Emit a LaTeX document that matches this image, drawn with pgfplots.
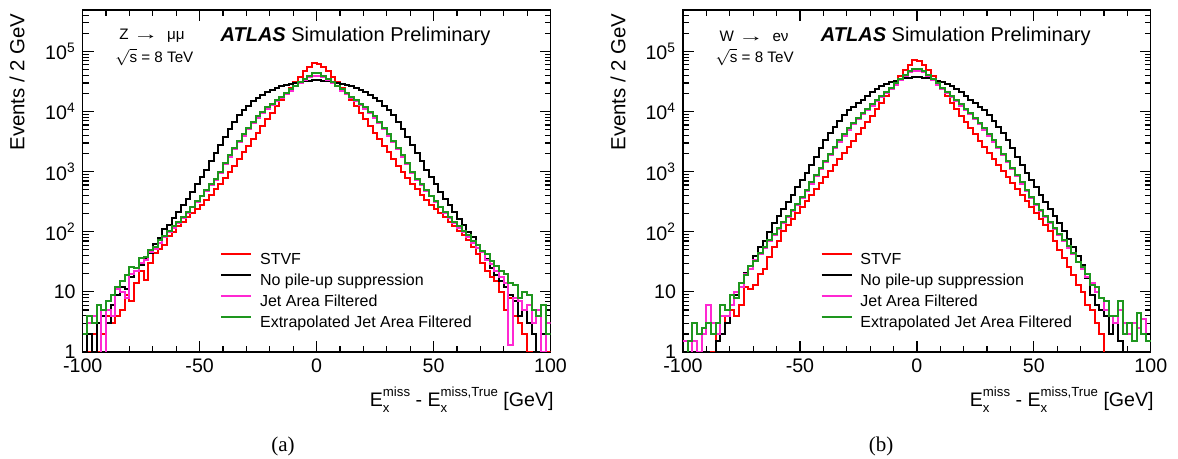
\documentclass[border=0pt]{standalone}
\usepackage{pgfplots}
\pgfplotsset{compat=1.18}
\usepackage{pgfplotstable}
\usepackage{fontspec}
\setmainfont{Liberation Sans}
\newfontfamily\seriffont{Liberation Serif}
\definecolor{cred}{RGB}{255,0,0}
\definecolor{cmag}{RGB}{255,40,210}
\definecolor{cgreen}{RGB}{30,150,30}
\newcommand\supsub[2]{\raisebox{-3pt}{\fontsize{6.6}{8}\selectfont\begin{tabular}[b]{@{}l@{}}#1\\#2\end{tabular}}}

% panel (a): Z -> mumu ; x = left bin edge, 2 GeV bins
\pgfplotstableread{
x R K M G
-100 0.5 0.5 2 2
-98 1 2 3 4
-96 2 1 4 3
-94 1 3 6 6
-92 2 4 0.5 5
-90 4 3 5 7
-88 3 6 4 9
-86 4 9 11 12
-84 5 12 10 15
-82 9 11 8 19
-80 7 18 20 26
-78 14 22 22 25
-76 22 28 30 36
-74 16 37 34 38
-72 30 45 46 50
-70 44 62 52 56
-68 52 80 64 72
-66 60 110 81 84
-64 85 130 98 102
-62 100 172 117 123
-60 126 214 141 148
-58 148 275 170 178
-56 174 355 204 214
-54 204 468 257 262
-52 240 617 316 324
-50 282 813 389 398
-48 339 1070 479 501
-46 417 1480 589 617
-44 513 2040 724 759
-42 631 2820 955 1000
-40 776 3800 1320 1380
-38 977 5130 1780 1860
-36 1260 6760 2340 2450
-34 1620 8710 3090 3240
-32 2090 10700 3980 4170
-30 2690 12600 5130 5370
-28 3470 14800 6460 6760
-26 4470 17000 7940 8320
-24 5750 19100 9550 10000
-22 7410 20900 11200 11700
-20 9550 22900 12900 13500
-18 12300 25100 14800 15500
-16 15800 26300 17000 17800
-14 20000 27500 19500 20400
-12 25100 28800 22400 23400
-10 30900 30200 26300 26900
-8 38000 31600 30200 30900
-6 46800 32400 33900 35500
-4 55000 32700 37200 39800
-2 63100 33100 39800 43700
0 62000 33000 39500 43300
2 55000 32700 37200 39800
4 46800 32400 33900 35500
6 38000 31600 30200 30900
8 30900 30200 26300 26900
10 25100 28800 22400 23400
12 20000 27500 19500 20400
14 15800 26300 17000 17800
16 12300 25100 14800 15500
18 9550 22900 12900 13500
20 7410 20900 11200 11700
22 5750 19100 9550 10000
24 4470 17000 7940 8320
26 3470 14800 6460 6760
28 2690 12600 5130 5370
30 2090 10700 3980 4170
32 1620 8710 3090 3240
34 1260 6760 2340 2450
36 977 5130 1780 1860
38 776 3800 1320 1380
40 631 2820 955 1000
42 513 2040 724 759
44 417 1480 589 617
46 339 1070 479 501
48 282 813 389 398
50 240 617 316 324
52 204 468 257 262
54 174 355 204 214
56 148 275 170 178
58 126 214 141 148
60 105 165 117 123
62 88 130 98 102
64 72 100 81 88
66 55 82 64 70
68 42 60 54 60
70 30 46 46 47
72 22 35 34 42
74 18 25 29 33
76 15 19 22 27
78 10 15 18 22
80 5 12 14 20
82 8 9 1.3 14
84 4 7 8 13
86 3 4 7 8
88 2 5 5 10
90 1 3 6 9
92 0.5 2 3 5
94 1 1 5 4
96 2 2 1 6
98 1 0.5 3 2
100 1 0.5 3 2
}\dataA

% panel (b): W -> e nu
\pgfplotstableread{
x R K M G
-100 0.5 0.5 1.5 0.5
-98 0.5 0.5 0.5 1.5
-96 0.5 0.5 1.5 3
-94 0.5 0.5 1 2
-92 0.5 0.5 2 2.5
-90 0.5 0.5 6 3
-88 1 0.5 3 2
-86 2 1.5 2 3
-84 4 2 4 6
-82 3 3 4 5
-80 5 6 6 9
-78 4 9 10 8
-76 6 12 12 14
-74 12 21 20 19
-72 11 24 24 27
-70 13 40 34 33
-68 20 55 42 44
-66 24 70 54 56
-64 38 100 69 72
-62 55 138 87 91
-60 71 182 110 115
-58 102 240 138 145
-56 129 316 174 182
-54 162 417 219 229
-52 204 550 282 295
-50 257 724 363 380
-48 324 955 479 501
-46 407 1290 631 661
-44 513 1780 832 871
-42 646 2450 1100 1150
-40 813 3310 1440 1510
-38 1020 4370 1910 2000
-36 1290 5620 2450 2570
-34 1620 7080 3160 3310
-32 2040 8710 3980 4170
-30 2570 10500 5010 5250
-28 3240 11700 6170 6460
-26 4170 13800 7590 7940
-24 5250 15800 9120 9550
-22 6760 18200 10700 11200
-20 8510 20900 12600 13200
-18 11000 23400 14800 15500
-16 14100 26300 17400 18200
-14 18200 28800 20400 21400
-12 23400 30900 24000 25100
-10 30200 32700 28200 29500
-8 38900 34700 33100 34700
-6 49000 35900 38900 40700
-4 60300 36700 44700 46800
-2 70800 37200 46800 51300
0 70000 37100 46500 51000
2 60300 36700 44700 46800
4 49000 35900 38900 40700
6 38900 34700 33100 34700
8 30200 32700 28200 29500
10 23400 30900 24000 25100
12 18200 28800 20400 21400
14 14100 26300 17400 18200
16 11000 23400 14800 15500
18 8510 20900 12600 13200
20 6760 18200 10700 11200
22 5250 15800 9120 9550
24 4170 13800 7590 7940
26 3240 11700 6170 6460
28 2570 10500 5010 5250
30 2040 8710 3980 4170
32 1620 7080 3160 3310
34 1290 5620 2450 2570
36 1020 4370 1910 2000
38 813 3310 1440 1510
40 646 2450 1100 1150
42 513 1780 832 871
44 407 1290 631 661
46 324 955 479 501
48 257 724 363 380
50 204 550 282 295
52 162 417 219 229
54 129 316 174 182
56 102 240 138 145
58 70 182 110 115
60 50 140 87 91
62 36 105 69 72
64 26 76 54 58
66 19 56 43 45
68 13 40 31 32
70 10 28 24 26
72 6 17 18 20
74 5 9 14 13
76 3 6 10 12
78 2 5 8 8
80 0.5 4 5 7
82 0.5 2 4 4
84 0.5 3 3 4
86 0.5 1.5 5 7
88 0.5 0.5 3 2
90 0.5 0.5 2 3
92 0.5 0.5 3 1.5
94 0.5 0.5 2.5 4.5
96 0.5 0.5 3.5 2
98 0.5 0.5 1.5 1.5
100 0.5 0.5 1.5 1.5
}\dataB

\pgfplotsset{
  scale only axis, width=233.9pt, height=171pt,
  xmin=-100, xmax=100, ymin=1, ymax=4.9e5,
  xtick={-100,-50,0,50,100}, xticklabels={-100,-50,0,50,100},
  minor xtick={-90,-80,-70,-60,-40,-30,-20,-10,10,20,30,40,60,70,80,90},
  ytick={1,10,100,1000,10000,100000},
  yticklabels={1,10,10\textsuperscript{2},10\textsuperscript{3},10\textsuperscript{4},10\textsuperscript{5}},
  minor ytick={2,3,4,5,6,7,8,9,20,30,40,50,60,70,80,90,200,300,400,500,600,700,800,900,2000,3000,4000,5000,6000,7000,8000,9000,20000,30000,40000,50000,60000,70000,80000,90000,200000,300000,400000},
  tick align=inside,
  major tick length=5.5pt, minor tick length=3pt,
  axis line style={line width=0.6pt},
  every tick/.style={black, line width=0.6pt},
  tick label style={font=\fontsize{9.8}{11}\selectfont},
  legend cell align=left,
  legend image code/.code={\draw[#1, line width=1pt] (0pt,2.8pt) -- (15pt,2.8pt);},
  legend style={at={(rel axis cs:0.2935,0.292)}, anchor=north west, draw=none, fill=none,
    inner sep=0pt, row sep=3pt, column sep=3.85pt,
    nodes={inner sep=0pt, text height=6pt, text depth=1.5pt},
    font=\fontsize{8}{9.6}\selectfont},
}

\begin{document}
\begin{tikzpicture}
\useasboundingbox (0,0) rectangle (589pt,229.5pt);

\begin{semilogyaxis}[at={(41.35pt,53.5pt)}, anchor=south west]
\addplot[cred, const plot mark left, no marks, line width=1pt] table[x=x,y=R] {\dataA};
\addlegendentry{STVF}
\addplot[black, const plot mark left, no marks, line width=1pt] table[x=x,y=K] {\dataA};
\addlegendentry{No pile-up suppression}
\addplot[cmag, const plot mark left, no marks, line width=1pt] table[x=x,y=M] {\dataA};
\addlegendentry{Jet Area Filtered}
\addplot[cgreen, const plot mark left, no marks, line width=1pt] table[x=x,y=G] {\dataA};
\addlegendentry{Extrapolated Jet Area Filtered}
\node[anchor=west, inner sep=0pt, font=\fontsize{7.6}{9}\selectfont] at (rel axis cs:0.0775,0.924) {Z \scalebox{1.7}[1]{→}\ \ μμ};
\node[anchor=west, inner sep=0pt, font=\fontsize{7.6}{9}\selectfont] at (rel axis cs:0.069,0.8626) {$\sqrt{\mbox{s}}$ = 8 TeV};
\node[anchor=west, inner sep=0pt, font=\fontsize{10}{12}\selectfont] at (rel axis cs:0.294,0.922) {{\bfseries\itshape ATLAS} Simulation Preliminary};
\end{semilogyaxis}

\begin{semilogyaxis}[at={(341.5pt,53.5pt)}, anchor=south west]
\addplot[cred, const plot mark left, no marks, line width=1pt] table[x=x,y=R] {\dataB};
\addlegendentry{STVF}
\addplot[black, const plot mark left, no marks, line width=1pt] table[x=x,y=K] {\dataB};
\addlegendentry{No pile-up suppression}
\addplot[cmag, const plot mark left, no marks, line width=1pt] table[x=x,y=M] {\dataB};
\addlegendentry{Jet Area Filtered}
\addplot[cgreen, const plot mark left, no marks, line width=1pt] table[x=x,y=G] {\dataB};
\addlegendentry{Extrapolated Jet Area Filtered}
\node[anchor=west, inner sep=0pt, font=\fontsize{7.6}{9}\selectfont] at (rel axis cs:0.0775,0.924) {W \scalebox{1.7}[1]{→}\ \ eν};
\node[anchor=west, inner sep=0pt, font=\fontsize{7.6}{9}\selectfont] at (rel axis cs:0.069,0.8626) {$\sqrt{\mbox{s}}$ = 8 TeV};
\node[anchor=west, inner sep=0pt, font=\fontsize{10}{12}\selectfont] at (rel axis cs:0.294,0.922) {{\bfseries\itshape ATLAS} Simulation Preliminary};
\end{semilogyaxis}

% axis titles
\node[rotate=90, anchor=east, inner sep=0pt, font=\fontsize{10.2}{12}\selectfont] at (8.5pt,223pt) {Events / 2 GeV};
\node[rotate=90, anchor=east, inner sep=0pt, font=\fontsize{10.2}{12}\selectfont] at (309pt,223pt) {Events / 2 GeV};
\node[anchor=base east, inner sep=0pt, font=\fontsize{9.8}{11}\selectfont] at (277pt,26pt)
  {E\supsub{miss}{x} - E\supsub{miss,True}{x} [GeV]};
\node[anchor=base east, inner sep=0pt, font=\fontsize{9.8}{11}\selectfont] at (577pt,26pt)
  {E\supsub{miss}{x} - E\supsub{miss,True}{x} [GeV]};
% sub-captions
\node[inner sep=0pt, font=\seriffont\fontsize{10.5}{12}\selectfont] at (141.5pt,6.5pt) {(a)};
\node[inner sep=0pt, font=\seriffont\fontsize{10.5}{12}\selectfont] at (440.5pt,6.5pt) {(b)};
\end{tikzpicture}
\end{document}
